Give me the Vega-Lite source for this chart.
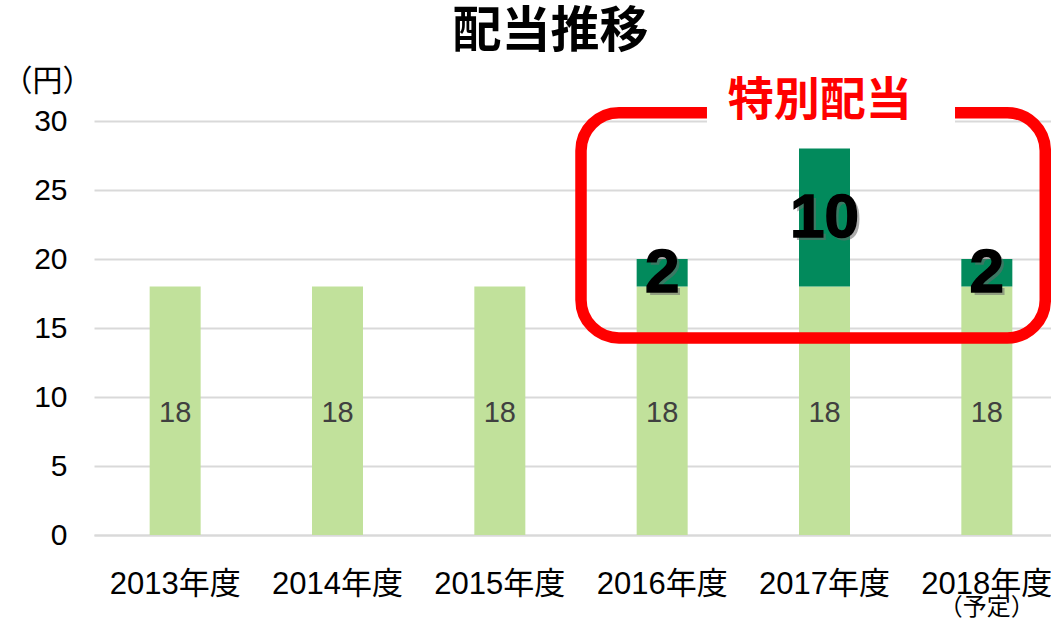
{
  "$schema": "https://vega.github.io/schema/vega-lite/v6.json",
  "width": 957,
  "height": 414,
  "autosize": {"type": "none"},
  "padding": {"left": 94, "top": 121, "right": 0, "bottom": 88},
  "background": "white",
  "config": {"view": {"stroke": null}, "font": "Liberation Sans"},
  "title": {
    "text": "配当推移",
    "font": "Noto Sans CJK JP",
    "fontSize": 49,
    "fontWeight": "bold",
    "color": "#000000",
    "anchor": "middle",
    "frame": "group",
    "dx": -22,
    "dy": 45,
    "baseline": "alphabetic",
    "offset": 15
  },
  "datasets": {
    "dividends": [
      {"year": "2013年度", "kind": "普通配当", "seg": 1, "value": 18},
      {"year": "2014年度", "kind": "普通配当", "seg": 1, "value": 18},
      {"year": "2015年度", "kind": "普通配当", "seg": 1, "value": 18},
      {"year": "2016年度", "kind": "普通配当", "seg": 1, "value": 18},
      {"year": "2016年度", "kind": "特別配当", "seg": 2, "value": 2},
      {"year": "2017年度", "kind": "普通配当", "seg": 1, "value": 18},
      {"year": "2017年度", "kind": "特別配当", "seg": 2, "value": 10},
      {"year": "2018年度", "kind": "普通配当", "seg": 1, "value": 18},
      {"year": "2018年度", "kind": "特別配当", "seg": 2, "value": 2}
    ],
    "box": [
      {"x0": 3.0, "x1": 5.86, "y0": 14.28, "y1": 30.6}
    ],
    "gap": [
      {"x0": 3.776, "x1": 5.304, "y0": 29.85, "y1": 31.3}
    ],
    "boxlabel": [
      {"x": 4.47, "y": 31.45, "label": "特別配当"}
    ],
    "note": [
      {"year": "2018年度", "label": "（予定）"}
    ]
  },
  "layer": [
    {
      "encoding": {
        "x": {
          "field": "year", "type": "nominal", "sort": null,
          "scale": {"range": [0, 974], "paddingInner": 0, "paddingOuter": 0},
          "axis": {
            "title": null, "labelAngle": 0, "labelFontSize": 31, "labelColor": "#000000",
            "labelFont": "Liberation Sans, Noto Sans CJK JP",
            "ticks": false, "domain": true, "domainColor": "#d9d9d9", "domainWidth": 2,
            "labelPadding": 34
          }
        }
      },
      "layer": [
        {
          "data": {"name": "dividends"},
          "mark": {"type": "bar", "size": 51},
          "encoding": {
            "y": {
              "field": "value", "type": "quantitative", "stack": "zero",
              "scale": {"domain": [0, 30], "nice": false},
              "axis": {
                "title": "（円）", "titleAngle": 0, "titleFont": "Noto Sans CJK JP",
                "titleFontSize": 30, "titleFontWeight": "normal", "titleColor": "#000000",
                "titleX": -47, "titleY": -40, "titleAlign": "center", "titleBaseline": "middle",
                "values": [0, 5, 10, 15, 20, 25, 30],
                "labelFontSize": 30, "labelColor": "#000000", "labelPadding": 27,
                "ticks": false, "domain": false,
                "gridColor": "#d9d9d9", "gridWidth": 2
              }
            },
            "color": {
              "field": "kind", "type": "nominal",
              "scale": {"domain": ["普通配当", "特別配当"], "range": ["#c1e19b", "#028a5c"]},
              "legend": null
            },
            "order": {"field": "seg", "type": "quantitative"}
          }
        },
        {
          "data": {"name": "dividends"},
          "transform": [
            {"stack": "value", "groupby": ["year"], "sort": [{"field": "seg"}], "as": ["v0", "v1"]},
            {"calculate": "(datum.v0 + datum.v1) / 2", "as": "mid"},
            {"filter": "datum.seg == 1"}
          ],
          "mark": {"type": "text", "fontSize": 29, "color": "#404040", "font": "Liberation Sans", "baseline": "middle", "dy": 2},
          "encoding": {
            "y": {"field": "mid", "type": "quantitative"},
            "text": {"field": "value", "type": "quantitative"}
          }
        },
        {
          "data": {"name": "dividends"},
          "transform": [
            {"stack": "value", "groupby": ["year"], "sort": [{"field": "seg"}], "as": ["v0", "v1"]},
            {"calculate": "(datum.v0 + datum.v1) / 2", "as": "mid"},
            {"filter": "datum.seg == 2"}
          ],
          "mark": {"type": "text", "fontSize": 62, "fontWeight": "bold", "color": "#6a6a6a", "opacity": 0.55, "font": "Liberation Sans", "baseline": "middle", "dx": 3, "dy": 3},
          "encoding": {
            "y": {"field": "mid", "type": "quantitative"},
            "text": {"field": "value", "type": "quantitative"}
          }
        },
        {
          "data": {"name": "dividends"},
          "transform": [
            {"stack": "value", "groupby": ["year"], "sort": [{"field": "seg"}], "as": ["v0", "v1"]},
            {"calculate": "(datum.v0 + datum.v1) / 2", "as": "mid"},
            {"filter": "datum.seg == 2"}
          ],
          "mark": {"type": "text", "fontSize": 62, "fontWeight": "bold", "color": "#000000", "font": "Liberation Sans", "baseline": "middle", "stroke": "#000000", "strokeWidth": 1.5},
          "encoding": {
            "y": {"field": "mid", "type": "quantitative"},
            "text": {"field": "value", "type": "quantitative"}
          }
        },
        {
          "data": {"name": "note"},
          "mark": {"type": "text", "fontSize": 24, "color": "#000000", "font": "Noto Sans CJK JP", "baseline": "middle", "clip": false},
          "encoding": {
            "y": {"datum": -5.3, "type": "quantitative"},
            "text": {"field": "label"}
          }
        }
      ]
    },
    {
      "encoding": {
        "x": {"field": "x0", "type": "quantitative", "scale": {"domain": [0, 6], "range": [0, 974], "nice": false, "zero": false}, "axis": null}
      },
      "layer": [
        {
          "data": {"name": "box"},
          "mark": {"type": "rect", "fill": "transparent", "stroke": "#ff0000", "strokeWidth": 11.5, "cornerRadius": 38, "clip": false},
          "encoding": {
            "x2": {"field": "x1"},
            "y": {"field": "y0", "type": "quantitative"},
            "y2": {"field": "y1"}
          }
        },
        {
          "data": {"name": "gap"},
          "mark": {"type": "rect", "fill": "white", "clip": false},
          "encoding": {
            "x2": {"field": "x1"},
            "y": {"field": "y0", "type": "quantitative"},
            "y2": {"field": "y1"}
          }
        },
        {
          "data": {"name": "boxlabel"},
          "mark": {"type": "text", "fontSize": 46, "fontWeight": "bold", "color": "#ff0000", "font": "Noto Sans CJK JP", "baseline": "middle", "clip": false},
          "encoding": {
            "x": {"field": "x", "type": "quantitative", "scale": {"domain": [0, 6], "range": [0, 974], "nice": false, "zero": false}, "axis": null},
            "y": {"field": "y", "type": "quantitative"},
            "text": {"field": "label"}
          }
        }
      ]
    }
  ],
  "resolve": {"scale": {"x": "independent"}, "axis": {"x": "independent"}}
}
